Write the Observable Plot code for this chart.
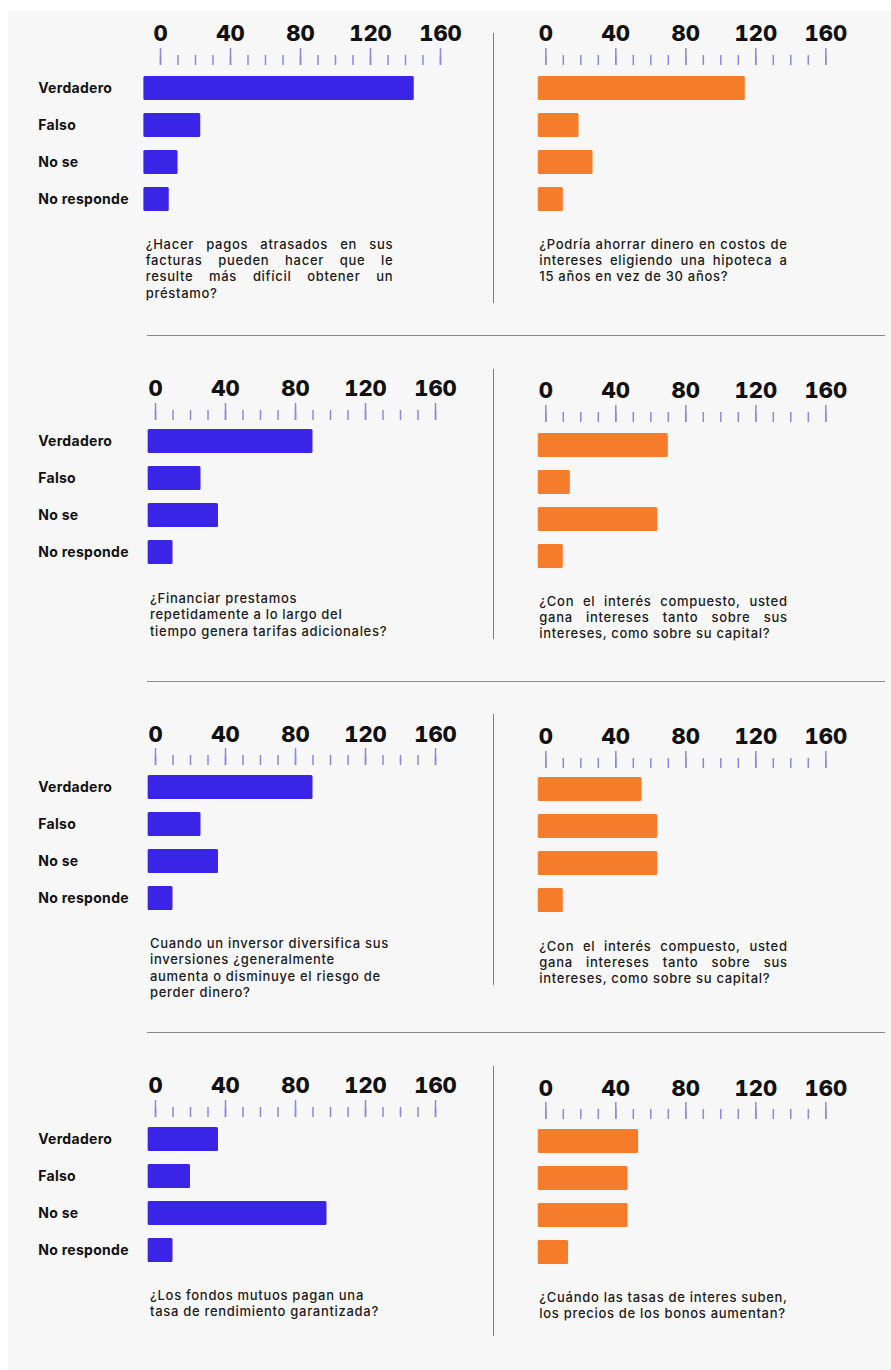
<!DOCTYPE html>
<html><head><meta charset="utf-8">
<script src="https://cdn.jsdelivr.net/npm/d3@7"></script>
<script src="https://cdn.jsdelivr.net/npm/@observablehq/plot@0.6"></script>
<style>
html,body{margin:0;padding:0;background:#fff;}
#page{position:relative;width:891px;height:1370px;overflow:hidden;font-family:Inter,"Noto Sans",sans-serif;}
#bg{position:absolute;left:8px;top:11px;width:883px;height:1359px;background:#f7f7f7;}
.vline{position:absolute;width:1.5px;background:#7d7d7d;}
.hline{position:absolute;height:1.5px;background:#8a8a8a;}
.q{position:absolute;font-size:13px;font-weight:500;color:#1b1b1b;line-height:16.3px;letter-spacing:0.7px;}
.q div{white-space:nowrap;}
.q div.j{text-align:justify;text-align-last:justify;white-space:normal;}
svg.panel{position:absolute;overflow:visible;}
svg.panel g[aria-label="y-axis tick label"]{letter-spacing:0.3px;}
</style></head><body><div id="page"><div id="bg"></div></div>
<script>
// ---- data ----
const categories = ["Verdadero", "Falso", "No se", "No responde"];
const majorTicks = [0, 40, 80, 120, 160];
const minorTicks = [0, 10, 20, 30, 40, 50, 60, 70, 80, 90, 100, 110, 120, 130, 140, 150, 160];

const valuesQ1 = [145, 23, 10, 5];
const valuesQ2 = [114, 19, 27, 10];
const valuesQ3 = [90, 26, 36, 10];
const valuesQ4 = [70, 14, 64, 10];
const valuesQ5 = [90, 26, 36, 10];
const valuesQ6 = [55, 64, 64, 10];
const valuesQ7 = [36, 20, 98, 10];
const valuesQ8 = [53, 47, 47, 13];

const questionQ1 = ["¿Hacer pagos atrasados en sus", "facturas pueden hacer que le", "resulte más difícil obtener un", "préstamo?"];
const questionQ2 = ["¿Podría ahorrar dinero en costos de", "intereses eligiendo una hipoteca a", "15 años en vez de 30 años?"];
const questionQ3 = ["¿Financiar prestamos", "repetidamente a lo largo del", "tiempo genera tarifas adicionales?"];
const questionQ4 = ["¿Con el interés compuesto, usted", "gana intereses tanto sobre sus", "intereses, como sobre su capital?"];
const questionQ5 = ["Cuando un inversor diversifica sus", "inversiones ¿generalmente", "aumenta o disminuye el riesgo de", "perder dinero?"];
const questionQ6 = ["¿Con el interés compuesto, usted", "gana intereses tanto sobre sus", "intereses, como sobre su capital?"];
const questionQ7 = ["¿Los fondos mutuos pagan una", "tasa de rendimiento garantizada?"];
const questionQ8 = ["¿Cuándo las tasas de interes suben,", "los precios de los bonos aumentan?"];

// ---- layout & style ----
const BLUE = "#3a24e6", ORANGE = "#f47c2a", TICK = "#8f86e2";
const panels = [
  {values: valuesQ1, question: questionQ1, justify: 3, col: 0, color: BLUE,   tick0: 160,   tickBottom: 64,    barsTop: 75.7,   barsBottom: 211.7,  base: -9.5, qx: 145.7, qw: 247.6, qTop: 235.8},
  {values: valuesQ2, question: questionQ2, justify: 2, col: 1, color: ORANGE, tick0: 545.3, tickBottom: 64,    barsTop: 75.7,   barsBottom: 211.7,  base: -4.3, qx: 539.3, qw: 248.4, qTop: 235.8},
  {values: valuesQ3, question: questionQ3, justify: 0, col: 0, color: BLUE,   tick0: 155,   tickBottom: 419,   barsTop: 429.3,  barsBottom: 566.3,  base: -4.2, qx: 150,   qw: 260,   qTop: 590.1},
  {values: valuesQ4, question: questionQ4, justify: 2, col: 1, color: ORANGE, tick0: 545.3, tickBottom: 421,   barsTop: 432.7,  barsBottom: 568.3,  base: -4.3, qx: 539.3, qw: 248.4, qTop: 592.8},
  {values: valuesQ5, question: questionQ5, justify: 0, col: 0, color: BLUE,   tick0: 155,   tickBottom: 764.3, barsTop: 775.7,  barsBottom: 911.3,  base: -4.2, qx: 150,   qw: 260,   qTop: 935.1},
  {values: valuesQ6, question: questionQ6, justify: 2, col: 1, color: ORANGE, tick0: 545.3, tickBottom: 767.3, barsTop: 777.7,  barsBottom: 914,    base: -4.3, qx: 539.3, qw: 248.4, qTop: 937.8},
  {values: valuesQ7, question: questionQ7, justify: 0, col: 0, color: BLUE,   tick0: 155,   tickBottom: 1115.7,barsTop: 1126.7, barsBottom: 1263,   base: -4.2, qx: 150,   qw: 260,   qTop: 1286.8},
  {values: valuesQ8, question: questionQ8, justify: 0, col: 1, color: ORANGE, tick0: 545.3, tickBottom: 1118.3,barsTop: 1129.3, barsBottom: 1265.3, base: -4.3, qx: 539.3, qw: 260,   qTop: 1289.1}
];
const vlines = [[33, 303], [369.3, 639.3], [714.3, 985], [1065.7, 1336]];
const hlines = [335.7, 681.7, 1032.3];

const page = document.getElementById("page");

for (const [y1, y2] of vlines) {
  const d = document.createElement("div");
  d.className = "vline";
  d.style.left = "492.6px"; d.style.top = y1 + "px"; d.style.height = (y2 - y1) + "px";
  page.appendChild(d);
}
for (const y of hlines) {
  const d = document.createElement("div");
  d.className = "hline";
  d.style.left = "146.7px"; d.style.top = (y - 0.75) + "px"; d.style.width = (885 - 146.7) + "px";
  page.appendChild(d);
}

for (const p of panels) {
  const left = p.col === 0 ? 0 : 446;
  const width = p.col === 0 ? 480 : 445;
  const marginTop = 64;
  const top = p.tickBottom - marginTop;
  const height = marginTop + (p.barsBottom - p.tickBottom);
  const marginLeft = p.tick0 - left;
  const marginRight = width - (p.tick0 + 280 - left);
  const rows = categories.map((c, i) => ({category: c, value: p.values[i], base: p.base}));
  const marks = [
    Plot.axisX({anchor: "top", ticks: minorTicks, tickSize: 10, tickFormat: () => "", stroke: TICK, strokeWidth: 1.5, label: null}),
    Plot.axisX({anchor: "top", ticks: majorTicks, tickSize: 17, tickPadding: 6, stroke: TICK, strokeWidth: 1.5, fill: "#111",
                fontSize: 22, fontWeight: 800, fontFamily: "Inter", label: null}),
    Plot.barX(rows, {y: "category", x1: "base", x2: "value", fill: p.color, rx: 1.5})
  ];
  if (p.col === 0) {
    marks.push(Plot.axisY({anchor: "left", tickSize: 0, tickPadding: marginLeft - 37.7, textAnchor: "start",
                           fontSize: 14, fontWeight: 700, fontFamily: "Inter", fill: "#111", label: null}));
  }
  const svg = Plot.plot({
    width, height, marginTop, marginLeft, marginRight, marginBottom: 0,
    insetTop: p.barsTop - p.tickBottom,
    x: {domain: [0, 160], axis: null},
    y: {domain: categories, paddingInner: 0.345, paddingOuter: 0, align: 0, axis: null},
    style: {background: "transparent", fontFamily: "Inter", overflow: "visible"},
    marks
  });
  svg.classList.add("panel");
  svg.style.left = left + "px";
  svg.style.top = top + "px";
  page.appendChild(svg);

  const q = document.createElement("div");
  q.className = "q";
  q.style.left = p.qx + "px";
  q.style.top = p.qTop + "px";
  q.style.width = p.qw + "px";
  p.question.forEach((line, i) => {
    const l = document.createElement("div");
    if (i < p.justify) l.className = "j";
    l.textContent = line;
    q.appendChild(l);
  });
  page.appendChild(q);
}
</script>
</body></html>
